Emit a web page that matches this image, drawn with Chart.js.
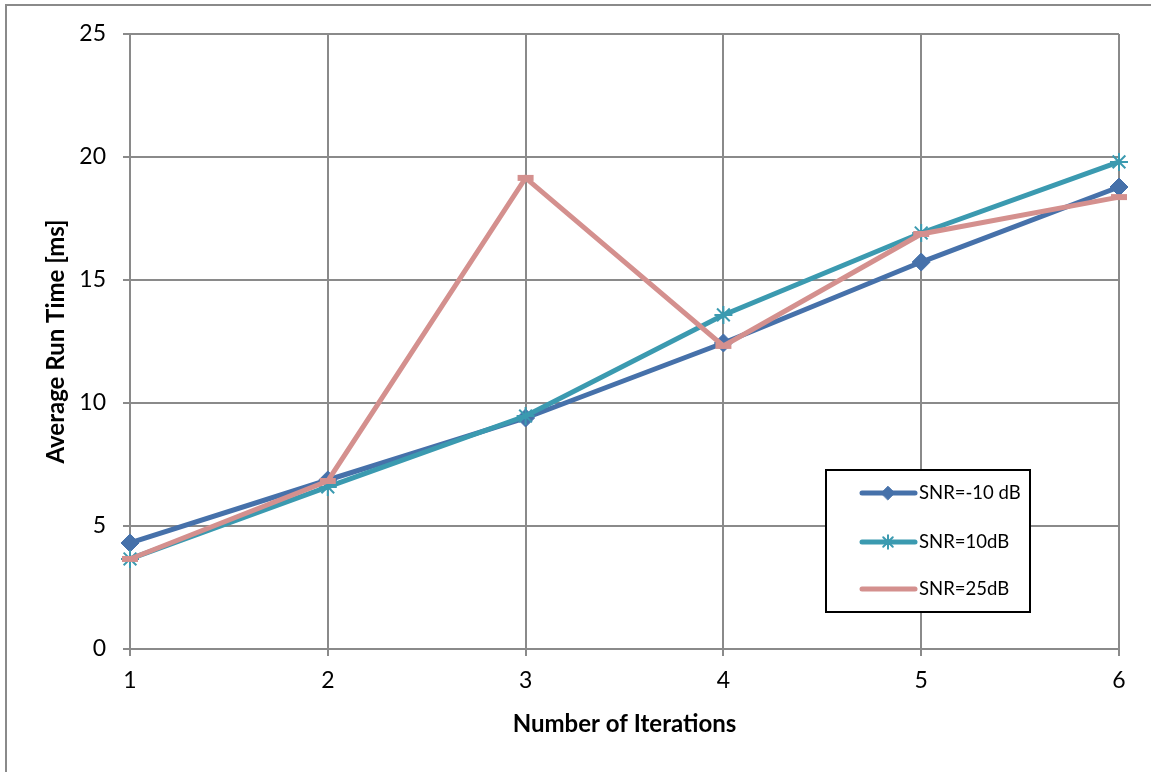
<!DOCTYPE html>
<html>

<head>
    <title>Average Run Time</title>
    <script src="https://cdn.jsdelivr.net/npm/chart.js"></script>
    <style>
        body {
            margin: 0;
            background: white;
        }

        .wrap {
            position: relative;
            width: 1151px;
            height: 772px;
        }
    </style>
</head>

<body>
    <div class="wrap">
        <canvas id="runChart"></canvas>
    </div>

    <script>
        const iterations = ['1', '2', '3', '4', '5', '6'];
        const snrMinus10 = [4.31, 6.87, 9.39, 12.44, 15.73, 18.78];
        const snr10 = [3.66, 6.59, 9.47, 13.58, 16.91, 19.8];
        const snr25 = [3.66, 6.83, 19.15, 12.32, 16.87, 18.37];
        const yTicks = [0, 5, 10, 15, 20, 25];

        const fontFamily = "Lato, 'Open Sans', sans-serif";
        const gridColor = '#8a8a8a';

        // legend drawn as a framed box inside the plot, like the original
        const boxLegend = {
            id: 'boxLegend',
            afterDraw(chart) {
                const ctx = chart.ctx;
                ctx.save();
                // outer frame of the figure (left and top edges)
                ctx.strokeStyle = '#8a8a8a';
                ctx.lineWidth = 2;
                ctx.beginPath();
                ctx.moveTo(6, 772);
                ctx.lineTo(6, 5);
                ctx.lineTo(1151, 5);
                ctx.stroke();

                ctx.fillStyle = 'white';
                ctx.fillRect(826, 470, 204, 142);
                ctx.strokeStyle = '#000';
                ctx.lineWidth = 2;
                ctx.strokeRect(826, 470, 204, 142);

                const rows = [493, 542, 589];
                chart.data.datasets.forEach((ds, i) => {
                    const y = rows[i];
                    ctx.strokeStyle = ds.borderColor;
                    ctx.lineWidth = 5;
                    ctx.lineCap = 'round';
                    ctx.beginPath();
                    ctx.moveTo(862, y);
                    ctx.lineTo(915, y);
                    ctx.stroke();
                    if (ds.pointStyle !== 'line') {
                        ctx.fillStyle = ds.borderColor;
                        ctx.strokeStyle = ds.borderColor;
                        ctx.lineWidth = ds.pointBorderWidth;
                        Chart.helpers.drawPoint(ctx, {
                            pointStyle: ds.pointStyle,
                            radius: ds.pointRadius * 0.75,
                            borderWidth: ds.pointBorderWidth
                        }, 888, y);
                    }
                    ctx.fillStyle = '#000';
                    ctx.font = '18.5px ' + fontFamily;
                    ctx.textBaseline = 'middle';
                    ctx.textAlign = 'left';
                    ctx.fillText(ds.label, 919, y);
                });
                ctx.restore();
            }
        };

        const ctx = document.getElementById('runChart').getContext('2d');
        const runChart = new Chart(ctx, {
            type: 'line',
            data: {
                labels: iterations,
                datasets: [{
                    label: 'SNR=-10 dB',
                    data: snrMinus10,
                    borderColor: '#4671aa',
                    backgroundColor: '#4671aa',
                    borderWidth: 5,
                    pointStyle: 'rectRot',
                    pointRadius: 9,
                    pointBorderWidth: 1,
                    order: 3
                }, {
                    label: 'SNR=10dB',
                    data: snr10,
                    borderColor: '#3b9ab0',
                    backgroundColor: '#3b9ab0',
                    borderWidth: 5,
                    pointStyle: 'star',
                    pointRadius: 9,
                    pointBorderWidth: 2,
                    order: 2
                }, {
                    label: 'SNR=25dB',
                    data: snr25,
                    borderColor: '#d4908e',
                    backgroundColor: '#d4908e',
                    borderWidth: 5,
                    pointStyle: 'line',
                    pointRadius: 8,
                    pointBorderWidth: 6,
                    order: 1
                }]
            },
            options: {
                responsive: true,
                maintainAspectRatio: false,
                animation: false,
                clip: false,
                layout: {
                    padding: { left: 0, top: 34, right: 32, bottom: 0 }
                },
                plugins: {
                    legend: { display: false },
                    tooltip: { enabled: false }
                },
                scales: {
                    x: {
                        offset: false,
                        afterFit: scale => { scale.height = 123; },
                        grid: { color: gridColor, lineWidth: 2, tickLength: 7, tickColor: gridColor },
                        border: { color: gridColor, width: 2 },
                        ticks: { color: '#000', font: { family: fontFamily, size: 23 }, padding: 11 },
                        title: {
                            display: true,
                            text: 'Number of Iterations',
                            color: '#000',
                            font: { family: fontFamily, size: 24, weight: 'bold' },
                            padding: { top: 0, bottom: 33 }
                        }
                    },
                    y: {
                        min: 0,
                        max: 25,
                        afterFit: scale => { scale.width = 130; },
                        afterBuildTicks: scale => {
                            scale.ticks = yTicks.map(v => ({ value: v }));
                        },
                        grid: { color: gridColor, lineWidth: 2, tickLength: 7, tickColor: gridColor },
                        border: { color: gridColor, width: 2 },
                        ticks: { color: '#000', font: { family: fontFamily, size: 23 }, padding: 17 },
                        title: {
                            display: true,
                            text: 'Average Run Time [ms]',
                            color: '#000',
                            font: { family: fontFamily, size: 24, weight: 'bold' },
                            padding: { top: 42, bottom: 0 }
                        }
                    }
                }
            },
            plugins: [boxLegend]
        });
    </script>
</body>

</html>
